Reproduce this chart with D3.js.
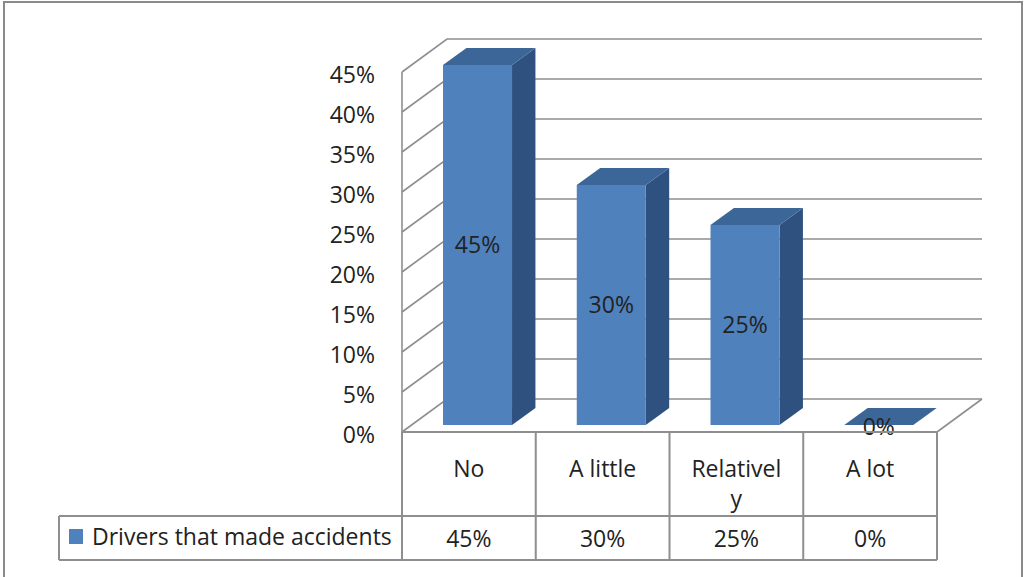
<!DOCTYPE html>
<html>
<head>
<meta charset="utf-8">
<script src="https://cdn.jsdelivr.net/npm/d3@7"></script>
<style>
  html, body { margin: 0; padding: 0; background: #fff; }
  svg { display: block; }
  text { font-family: "Open Sans", sans-serif; fill: #222; }
</style>
</head>
<body>
<div id="chart"></div>
<script>
// DATA
const categories = ["No", "A little", "Relatively", "A lot"];
const categoryLines = [["No"], ["A little"], ["Relativel", "y"], ["A lot"]];
const values = [45, 30, 25, 0];
const seriesName = "Drivers that made accidents";
const yTicks = [0, 5, 10, 15, 20, 25, 30, 35, 40, 45];

const W = 1025, H = 577;
const plot = { left: 402, right: 937, top: 72, bottom: 432 };
const depth = { dx: 45, dy: 33 };
const table = { catBottom: 516, valBottom: 560, legendLeft: 59 };
const fs = 23;

const gridColor = "#8e8e8e";
const frontColor = "#4f81bd", topColor = "#3c6697", sideColor = "#2f5180";

const svg = d3.select("#chart").append("svg")
  .attr("width", W).attr("height", H);

const x = d3.scaleBand().domain(categories).range([plot.left, plot.right]);
const y = d3.scaleLinear().domain([0, 45]).range([plot.bottom, plot.top]);

// project (x, value, z) into the oblique view
const P = (px, v, z) => [px + z * depth.dx, y(v) - z * depth.dy];
const poly = pts => pts.map(p => p.join(",")).join(" ");

// outer frame
svg.append("path")
  .attr("d", `M4,${H} L4,2 L1022,2 L1022,${H}`)
  .attr("fill", "none").attr("stroke", "#8a8a8a").attr("stroke-width", 2);

// -----------------------------------------------------------------------------
// WALLS & GRID
// -----------------------------------------------------------------------------
const grid = svg.append("g").attr("stroke", gridColor).attr("stroke-width", 1.6).attr("fill", "none");

yTicks.forEach(t => {
  grid.append("polyline")
    .attr("points", poly([P(plot.left, t, 0), P(plot.left, t, 1), P(plot.right, t, 1)]));
});
// front vertical axis
grid.append("line")
  .attr("x1", plot.left).attr("x2", plot.left)
  .attr("y1", y(45)).attr("y2", y(0));
// floor right edge
grid.append("polyline").attr("points", poly([P(plot.right, 0, 0), P(plot.right, 0, 1)]));

// Y labels
svg.append("g").selectAll("text").data(yTicks).join("text")
  .attr("x", 375).attr("y", d => y(d) + 11)
  .attr("text-anchor", "end").attr("font-size", fs)
  .text(d => d + "%");

// -----------------------------------------------------------------------------
// BARS
// -----------------------------------------------------------------------------
const z0 = 0.21, z1 = 0.73;
const bars = svg.append("g").selectAll("g").data(categories).join("g");
bars.each(function (c, i) {
  const g = d3.select(this);
  const v = values[i];
  const x0 = x(c) + x.bandwidth() * 0.236;
  const x1 = x0 + x.bandwidth() * 0.516;
  if (v > 0) {
    g.append("polygon").attr("fill", sideColor)
      .attr("points", poly([P(x1, 0, z0), P(x1, v, z0), P(x1, v, z1), P(x1, 0, z1)]));
    g.append("polygon").attr("fill", frontColor)
      .attr("points", poly([P(x0, 0, z0), P(x0, v, z0), P(x1, v, z0), P(x1, 0, z0)]));
  }
  g.append("polygon").attr("fill", topColor)
    .attr("points", poly([P(x0, v, z0), P(x1, v, z0), P(x1, v, z1), P(x0, v, z1)]));

  const fx = (P(x0, 0, z0)[0] + P(x1, 0, z0)[0]) / 2;
  const fy = (P(x0, v, z0)[1] + P(x0, 0, z0)[1]) / 2;
  g.append("text")
    .attr("x", fx).attr("y", fy + 8 + (v === 0 ? 2 : 0))
    .attr("text-anchor", "middle").attr("font-size", fs)
    .text(v + "%");
});

// -----------------------------------------------------------------------------
// DATA TABLE
// -----------------------------------------------------------------------------
const tbl = svg.append("g").attr("stroke", gridColor).attr("stroke-width", 2).attr("fill", "none");
tbl.append("line").attr("x1", plot.left).attr("x2", plot.right).attr("y1", plot.bottom).attr("y2", plot.bottom);
tbl.append("line").attr("x1", table.legendLeft).attr("x2", plot.right).attr("y1", table.catBottom).attr("y2", table.catBottom);
tbl.append("line").attr("x1", table.legendLeft).attr("x2", plot.right).attr("y1", table.valBottom).attr("y2", table.valBottom);
tbl.append("line").attr("x1", table.legendLeft).attr("x2", table.legendLeft).attr("y1", table.catBottom).attr("y2", table.valBottom);
const edges = categories.map(c => x(c)).concat([plot.right]);
edges.forEach(e => {
  tbl.append("line").attr("x1", e).attr("x2", e).attr("y1", plot.bottom).attr("y2", table.valBottom);
});

// category labels
svg.append("g").selectAll("text").data(categories).join("text")
  .attr("text-anchor", "middle").attr("font-size", fs)
  .each(function (c, i) {
    d3.select(this).selectAll("tspan").data(categoryLines[i]).join("tspan")
      .attr("x", x(c) + x.bandwidth() / 2)
      .attr("y", (d, k) => 477 + k * 30)
      .text(d => d);
  });

// value labels
svg.append("g").selectAll("text").data(categories).join("text")
  .attr("x", c => x(c) + x.bandwidth() / 2).attr("y", 547)
  .attr("text-anchor", "middle").attr("font-size", fs)
  .text((c, i) => values[i] + "%");

// legend
svg.append("rect").attr("x", 69).attr("y", 529).attr("width", 14).attr("height", 15).attr("fill", frontColor);
svg.append("text").attr("x", 92).attr("y", 545).attr("font-size", fs).text(seriesName);
</script>
</body>
</html>
